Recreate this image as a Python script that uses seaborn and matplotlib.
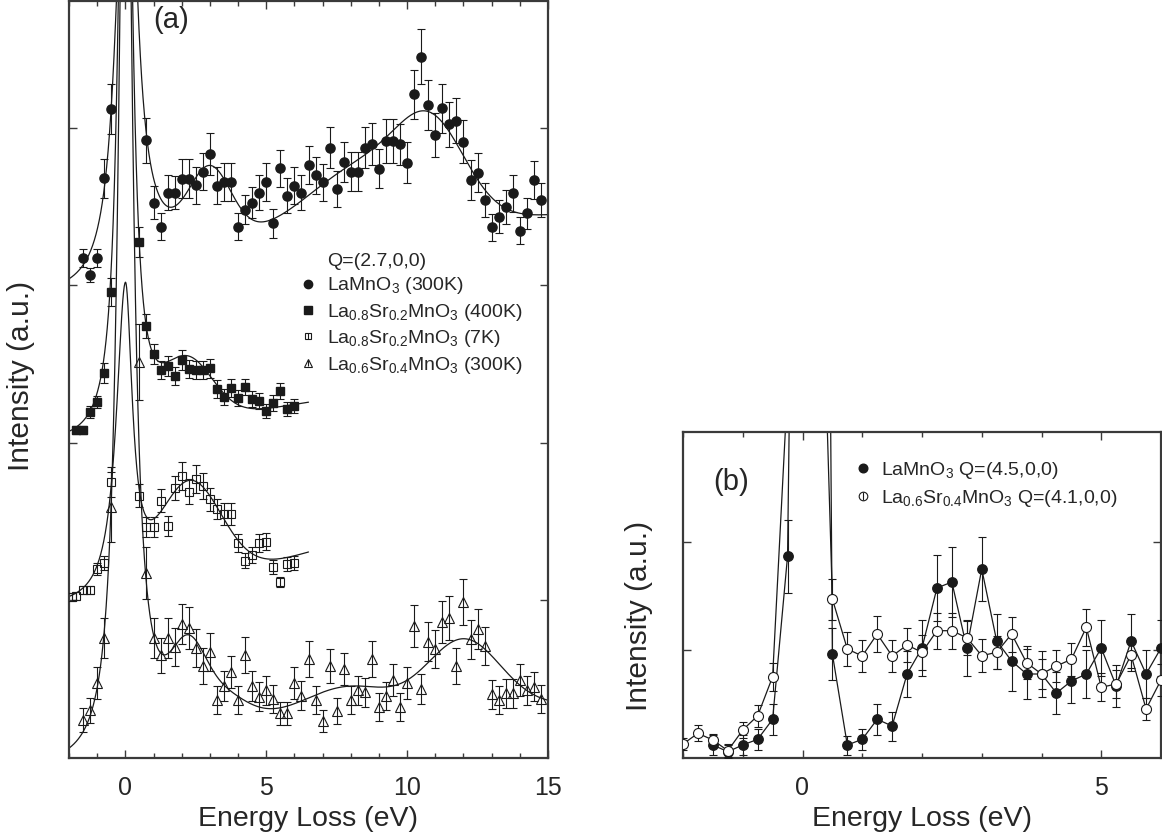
import numpy as np
import pandas as pd
import matplotlib
matplotlib.use("Agg")
import matplotlib.pyplot as plt
import seaborn as sns
from matplotlib.lines import Line2D
from matplotlib.ticker import MultipleLocator

sns.set_theme(style="ticks")
plt.rcParams['font.family'] = ['Liberation Sans', 'DejaVu Sans']
plt.rcParams['mathtext.fontset'] = 'custom'
plt.rcParams['mathtext.rm'] = 'Liberation Sans'
plt.rcParams['mathtext.it'] = 'Liberation Sans:italic'
plt.rcParams['mathtext.bf'] = 'Liberation Sans:bold'

# ---------------- Panel (a) data (intensity in arbitrary units) ----------------
lamno3_E = [-1.5, -1.25, -1.0, -0.75, -0.5,
            0.75, 1.0, 1.25, 1.5, 1.75, 2.0, 2.25, 2.5, 2.75, 3.0,
            3.25, 3.5, 3.75, 4.0, 4.25, 4.5, 4.75, 5.0, 5.25, 5.5,
            5.75, 6.0, 6.25, 6.5, 6.75, 7.0, 7.25, 7.5, 7.75, 8.0,
            8.25, 8.5, 8.75, 9.0, 9.25, 9.5, 9.75, 10.0, 10.25, 10.5,
            10.75, 11.0, 11.25, 11.5, 11.75, 12.0, 12.25, 12.5, 12.75, 13.0,
            13.25, 13.5, 13.75, 14.0, 14.25, 14.5, 14.75]
lamno3_I = [500.3, 483, 500.3, 579.7, 648.7,
            617.7, 555.3, 531.3, 565.3, 565.3, 579.3, 579.3, 572.7, 586.3, 603.7,
            572.3, 576, 576, 531.3, 548.3, 555.3, 565.3, 576, 534.7, 589.7,
            562, 572.3, 565.3, 593, 582.7, 575.7, 610.3, 568.7, 596.3, 586,
            586, 610, 613.7, 589.3, 617, 617, 613.7, 595.3, 663.7, 701,
            653, 623, 649.7, 633.7, 637.3, 616.3, 578, 585.3, 558, 530.7,
            541.3, 551.3, 564.7, 527.3, 544.7, 578, 558]
lamno3_err = [9, 6.7, 9, 19.5, 25,
              22.5, 16.8, 13.3, 17.5, 16.7, 19.5, 19.5, 18.3, 18.8, 20.8,
              18.3, 18.7, 18.7, 13.7, 14.5, 15.8, 17.5, 18.7, 14.5, 18.3,
              17.5, 18.3, 17.5, 19, 18.3, 18.7, 20.8, 17.8, 20, 19.5,
              19.5, 20.5, 20.8, 19.2, 21.7, 21.7, 20.5, 20.8, 24.7, 27.5,
              25, 22, 24.3, 22.5, 22.5, 21.3, 20, 19.7, 17, 13.7,
              16.7, 17, 18.3, 13.8, 15.5, 18.7, 17]

lsmo2_400_E = [-1.75, -1.5, -1.25, -1.0, -0.75, -0.5, 0.5,
               0.75, 1.0, 1.25, 1.5, 1.75, 2.0, 2.25, 2.5, 2.75, 3.0, 3.25,
               3.5, 3.75, 4.0, 4.25, 4.5, 4.75, 5.0, 5.25, 5.5, 5.75, 6.0]
lsmo2_400_I = [328, 328, 346.3, 356.3, 385.3, 466.3, 516,
               432.3, 404, 387.7, 392, 382.3, 398, 388.7, 388, 388, 389.7, 369,
               361.3, 370.3, 360.3, 371, 358.7, 357.3, 347.3, 355.3, 367, 349, 352.3]
lsmo2_400_err = [4, 4, 6, 6, 10, 14, 15,
                 12, 10, 9, 10, 9, 10, 9, 9, 9, 9.5, 9,
                 8, 9, 8, 8, 8, 8, 7, 8, 8, 7, 7]

lsmo2_7_E = [-1.88, -1.75, -1.5, -1.25, -1.0, -0.75, -0.5, 0.5,
             0.75, 1.0, 1.25, 1.5, 1.75, 2.0, 2.25, 2.5, 2.75, 3.0, 3.25,
             3.5, 3.75, 4.0, 4.25, 4.5, 4.75, 5.0, 5.25, 5.5, 5.75, 6.0]
lsmo2_7_I = [161, 162, 168, 168, 189, 194.7, 276.3, 262.3,
             231.3, 231.3, 257.3, 232.3, 270.3, 282, 266.3, 279, 272, 258.7, 248.7,
             244, 243.7, 215.3, 197.3, 203, 214.7, 216.3, 191.3, 176.3, 194, 194.7]
lsmo2_7_err = [4, 4, 4, 4, 6, 7, 15, 11.7,
               10, 10, 11.5, 10, 12, 14, 12.5, 14, 13, 11.5, 10,
               10.5, 11, 9, 7.5, 8, 9, 8.5, 7, 5, 7, 7]

lsmo4_E = [-1.5, -1.25, -1.0, -0.75, -0.5, 0.5,
           0.75, 1.0, 1.25, 1.5, 1.75, 2.0, 2.25, 2.5, 2.75, 3.0,
           3.25, 3.5, 3.75, 4.0, 4.25, 4.5, 4.75, 5.0, 5.25, 5.5,
           5.75, 6.0, 6.25, 6.5, 6.75, 7.0, 7.25, 7.5, 7.75, 8.0,
           8.25, 8.5, 8.75, 9.0, 9.25, 9.5, 9.75, 10.0, 10.25, 10.5,
           10.75, 11.0, 11.25, 11.5, 11.75, 12.0, 12.25, 12.5, 12.75, 13.0,
           13.25, 13.5, 13.75, 14.0, 14.25, 14.5, 14.75]
lsmo4_I = [38, 48, 75.3, 119.7, 251, 396,
           184.7, 119.7, 103, 119.7, 110.7, 133.7, 130.3, 109.7, 92.3, 106.3,
           58, 72, 85.7, 58, 103, 72, 61.3, 68, 58.7, 44.7,
           44.7, 75.3, 62.3, 99, 58, 37.3, 92, 47.3, 89, 58,
           68, 65.7, 98.7, 51.3, 62, 78, 51.3, 74.7, 132.3, 68.7,
           116.3, 108.7, 136.3, 139.7, 92, 156.3, 118.7, 128.7, 112, 64,
           58, 64.7, 64.7, 78, 68, 71.3, 58.7]
lsmo4_err = [12, 12.5, 16, 20, 35, 38,
             26, 20, 17.5, 20, 19, 20, 21, 19, 18, 19,
             14, 15, 16, 14, 18, 15, 14.5, 14.5, 14, 11.5,
             11.5, 16, 14.5, 18, 14, 11, 17, 13, 16, 14,
             14.5, 14.5, 18, 14, 14, 16, 14, 16, 21, 15,
             19.5, 19, 21, 22, 18, 23, 19.5, 20, 19, 14.5,
             14, 14.5, 14.5, 16, 14.5, 14.5, 14]

# Fit curves: elastic line [bg_left, amp_left, width_left, bg_right, slope_right, amp_right, width_right]
# plus inelastic Gaussian features [(centre, sigma, amplitude), ...]
lamno3_elastic = [460, 475, 0.41, 505, 2.5, 660, 0.345]
lamno3_peaks = [(3.0, 0.75, 70), (8.5, 2.0, 65), (10.9, 1.2, 80)]
lsmo2_400_elastic = [313, 887, 0.25, 322, 5.0, 887, 0.25]
lsmo2_400_peaks = [(2.2, 0.9, 58)]
lsmo2_7_elastic = [150, 312, 0.39, 150, 8.5, 312, 0.30]
lsmo2_7_peaks = [(2.27, 1.13, 103)]
lsmo4_elastic = [-12, 1112, 0.283, 30, 1.5, 1112, 0.283]
lsmo4_peaks = [(2.2, 0.6, 60), (3.3, 0.9, 25), (7.9, 1.5, 28), (12.0, 1.3, 70)]

# ---------------- Panel (b) data ----------------
b_lamno3_E = [-1.5, -1.25, -1.0, -0.75, -0.5, -0.25, 0.0, 0.25, 0.5, 0.75,
              1.0, 1.25, 1.5, 1.75, 2.0, 2.25, 2.5, 2.75, 3.0, 3.25,
              3.5, 3.75, 4.0, 4.25, 4.5, 4.75, 5.0, 5.25, 5.5, 5.75, 6.0]
b_lamno3_I = [13, 6.3, 13, 18.7, 38.7, 202, 1400, 2100, 104, 13,
              18.7, 38.7, 32, 84, 110, 170, 176, 110, 189, 117,
              97, 84, 84, 65, 77, 84, 110, 72, 117, 84, 110]
b_lamno3_err = [10, 6.7, 10, 10.8, 15.8, 36.5, 0, 0, 25.8, 9.5,
                10.3, 15.8, 14.5, 22.8, 27.7, 33, 35, 27.5, 32, 27.5,
                30, 25, 23, 20.7, 22, 23.7, 27.8, 21, 27, 24, 27.8]

b_lsmo4_E = [-2.0, -1.75, -1.5, -1.25, -1.0, -0.75, -0.5, -0.25, 0.0, 0.25,
             0.5, 0.75, 1.0, 1.25, 1.5, 1.75, 2.0, 2.25, 2.5, 2.75,
             3.0, 3.25, 3.5, 3.75, 4.0, 4.25, 4.5, 4.75, 5.0, 5.25,
             5.5, 5.75, 6.0]
b_lsmo4_I = [14, 24.7, 18, 7.3, 28, 42.3, 81.3, 370, 1500, 660,
             159, 109, 102, 124, 102, 113, 105.7, 127.3, 127.3, 120.3,
             102.3, 105.7, 124, 95.3, 84, 92, 98.7, 130.7, 70.7, 74,
             103, 49, 78]
b_lsmo4_err = [5.8, 8, 6.3, 6.7, 8.3, 10.8, 14.2, 0, 0, 0,
               20.5, 16.7, 16.2, 17.8, 15.7, 17.2, 17.2, 18, 18, 17.5,
               16.5, 16.7, 17.5, 16.7, 15, 15.8, 16.7, 18.8, 14, 14,
               16, 11.3, 16]

legend_a_labels = ['Q=(2.7,0,0)', r'LaMnO$_3$ (300K)',
                   r'La$_{0.8}$Sr$_{0.2}$MnO$_3$ (400K)',
                   r'La$_{0.8}$Sr$_{0.2}$MnO$_3$ (7K)',
                   r'La$_{0.6}$Sr$_{0.4}$MnO$_3$ (300K)']
legend_b_labels = [r'LaMnO$_3$ Q=(4.5,0,0)', r'La$_{0.6}$Sr$_{0.4}$MnO$_3$ Q=(4.1,0,0)']


def fit_curve(E, elastic, peaks):
    bL, aL, gL, bR, k, aR, gR = elastic
    left = bL + aL * gL ** 2 / (E ** 2 + gL ** 2)
    right = bR + k * E + aR * gR ** 2 / (E ** 2 + gR ** 2)
    y = np.where(E < 0, left, right)
    for c, s, a in peaks:
        y = y + a * np.exp(-(E - c) ** 2 / (2 * s ** 2))
    return y


fig = plt.figure(figsize=(11.62, 8.38), dpi=100)
ax_a = fig.add_axes([69 / 1162, 80 / 838, 479 / 1162, 757 / 838])
ax_b = fig.add_axes([683 / 1162, 80 / 838, 478 / 1162, 326 / 838])

SPINE = '#3a3a3a'
LBL = 20.5
TCK = 18

# ---- panel (a) fits
grid_long = np.linspace(-2.2, 15.2, 4001)
grid_short = np.linspace(-2.2, 6.5, 3001)
for grid, el, pk in [(grid_long, lamno3_elastic, lamno3_peaks),
                     (grid_short, lsmo2_400_elastic, lsmo2_400_peaks),
                     (grid_short, lsmo2_7_elastic, lsmo2_7_peaks),
                     (grid_long, lsmo4_elastic, lsmo4_peaks)]:
    df = pd.DataFrame({'E': grid, 'I': fit_curve(grid, el, pk)})
    sns.lineplot(data=df, x='E', y='I', ax=ax_a, color='k', lw=0.9,
                 estimator=None, sort=False, zorder=2)

eb_kw = dict(ecolor='k', elinewidth=0.8, capsize=2.9, capthick=0.8, ls='none', zorder=3)
ax_a.errorbar(lamno3_E, lamno3_I, yerr=lamno3_err, marker='o', ms=6.6,
              mfc='k', mec='k', **eb_kw)
ax_a.errorbar(lsmo2_400_E, lsmo2_400_I, yerr=lsmo2_400_err, marker='s', ms=5.8,
              mfc='k', mec='k', **eb_kw)
ax_a.errorbar(lsmo2_7_E, lsmo2_7_I, yerr=lsmo2_7_err, marker='s', ms=5.8,
              mfc='none', mec='k', mew=0.8, **eb_kw)
ax_a.errorbar(lsmo4_E, lsmo4_I, yerr=lsmo4_err, marker='^', ms=7.2,
              mfc='none', mec='k', mew=0.8, **eb_kw)

ax_a.set_xlim(-2.0, 15.0)
ax_a.set_ylim(0, 757)
ax_a.xaxis.set_major_locator(MultipleLocator(5))
ax_a.xaxis.set_minor_locator(MultipleLocator(1))
ax_a.set_yticks([158, 315, 473, 630])
ax_a.set_yticklabels([])
ax_a.set_xlabel('Energy Loss (eV)', fontsize=LBL, labelpad=4)
ax_a.set_ylabel('Intensity (a.u.)', fontsize=21.5)
ax_a.yaxis.set_label_coords(-0.072, 0.505)
ax_a.text(0.175, 0.975, '(a)', transform=ax_a.transAxes, fontsize=21,
          ha='left', va='center')

mk = dict(ls='', color='k')
h_title = Line2D([], [], ls='', marker='')
h1 = Line2D([], [], marker='o', ms=6.0, mfc='k', mec='k', **mk)
h2 = Line2D([], [], marker='s', ms=5.4, mfc='k', mec='k', **mk)
h3 = (Line2D([], [], marker='s', ms=4.6, mfc='none', mec='k', mew=0.8, **mk),
      Line2D([], [], marker='|', ms=4.6, mew=0.8, **mk))
h4 = (Line2D([], [], marker='^', ms=5.4, mfc='none', mec='k', mew=0.8, **mk),
      Line2D([], [], marker='|', ms=4.6, mew=0.8, **mk))
ax_a.legend([h_title, h1, h2, h3, h4], legend_a_labels, loc='upper left',
            bbox_to_anchor=(0.482, 0.668), frameon=False, fontsize=14,
            handlelength=0.8, handletextpad=0.62, labelspacing=0.28,
            borderpad=0, borderaxespad=0)

# ---- panel (b)
for E, I in [(b_lamno3_E, b_lamno3_I), (b_lsmo4_E, b_lsmo4_I)]:
    df = pd.DataFrame({'E': E, 'I': I})
    sns.lineplot(data=df, x='E', y='I', ax=ax_b, color='k', lw=0.9,
                 estimator=None, sort=False, zorder=2)
eb_b = dict(ecolor='k', elinewidth=0.8, capsize=2.7, capthick=0.8, ls='none', zorder=3)
ax_b.errorbar(b_lamno3_E, b_lamno3_I, yerr=b_lamno3_err, marker='o', ms=6.8,
              mfc='k', mec='k', **eb_b)
ax_b.errorbar(b_lsmo4_E, b_lsmo4_I, yerr=b_lsmo4_err, marker='o', ms=7.2,
              mfc='white', mec='k', mew=0.8, **eb_b)
ax_b.set_xlim(-2.0, 6.0)
ax_b.set_ylim(0, 326)
ax_b.xaxis.set_major_locator(MultipleLocator(5))
ax_b.xaxis.set_minor_locator(MultipleLocator(1))
ax_b.set_yticks([108, 216])
ax_b.set_yticklabels([])
ax_b.set_xlabel('Energy Loss (eV)', fontsize=LBL, labelpad=4)
ax_b.set_ylabel('Intensity (a.u.)', fontsize=21.5)
ax_b.yaxis.set_label_coords(-0.062, 0.436)
ax_b.text(0.063, 0.847, '(b)', transform=ax_b.transAxes, fontsize=21,
          ha='left', va='center')

hb1 = Line2D([], [], marker='o', ms=6.2, mfc='k', mec='k', **mk)
hb2 = (Line2D([], [], marker='o', ms=6.2, mfc='white', mec='k', mew=0.8, **mk),
       Line2D([], [], marker='|', ms=5.4, mew=0.8, **mk))
ax_b.legend([hb1, hb2], legend_b_labels, loc='upper left',
            bbox_to_anchor=(0.36, 0.915), frameon=False, fontsize=14,
            handlelength=0.8, handletextpad=0.55, labelspacing=0.38,
            borderpad=0, borderaxespad=0)

for ax in (ax_a, ax_b):
    for sp in ax.spines.values():
        sp.set_color(SPINE)
        sp.set_linewidth(1.6)
        sp.set_visible(True)
    ax.tick_params(which='both', direction='in', top=True, right=True,
                   color=SPINE, width=1.0, labelsize=TCK)
    ax.tick_params(axis='x', which='both', pad=13)
    ax.tick_params(which='major', length=6)
    ax.tick_params(which='minor', length=3.8)
    ax.grid(False)

fig.savefig('out.png', dpi=100)
